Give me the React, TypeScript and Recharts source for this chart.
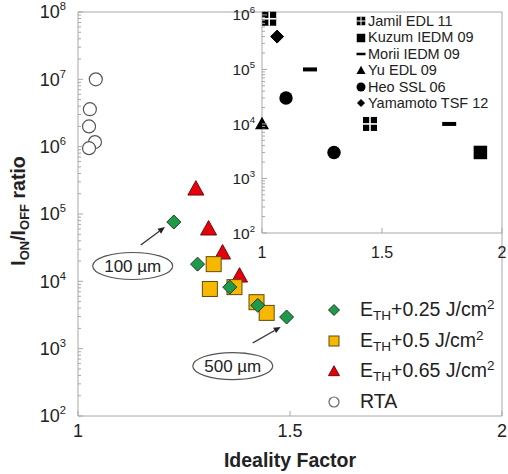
import React from 'react';
import { ScatterChart, Scatter, XAxis, YAxis, ReferenceLine, ReferenceDot, Legend } from 'recharts';

const FONT = '"Liberation Sans", Arial, Helvetica, sans-serif';
const AXIS = '#a8a8a8';
const INK = '#222';

// main panel: ideality factor vs Ion/Ioff
const e025X = [1.226, 1.282, 1.358, 1.424, 1.492];
const e025Y = [7.6e4, 1.8e4, 8.2e3, 4.4e3, 2.95e3];
const e05X = [1.32, 1.311, 1.369, 1.421, 1.445];
const e05Y = [1.8e4, 7.7e3, 8.2e3, 4.9e3, 3.4e3];
const e065X = [1.278, 1.308, 1.341, 1.381];
const e065Y = [2.35e5, 6.0e4, 2.64e4, 1.2e4];
const rtaX = [1.042, 1.028, 1.026, 1.04, 1.026];
const rtaY = [1.0e7, 3.6e6, 2.0e6, 1.17e6, 9.5e5];
const fluenceSteps = ['0.25', '0.5', '0.65'];

const mainXTicks = [1, 1.5, 2];
const mainExps = [2, 3, 4, 5, 6, 7, 8];

// annotations (data coords)
const noteLabels = ['100 µm', '500 µm'];
const noteAt = [{ x: 1.129, y: 1.69e4 }, { x: 1.365, y: 552 }];
const noteArrows = [
  [{ x: 1.148, y: 3.46e4 }, { x: 1.205, y: 6.4e4 }],
  [{ x: 1.412, y: 1213 }, { x: 1.478, y: 2099 }],
];

// inset: literature values
const refNames = ['Jamil EDL 11', 'Kuzum IEDM 09', 'Morii IEDM 09', 'Yu EDL 09', 'Heo SSL 06', 'Yamamoto TSF 12'];
const jamilX = [1.03, 1.45];
const jamilY = [8.5e5, 1e4];
const kuzumX = [1.91];
const kuzumY = [3e3];
const moriiX = [1.2, 1.78];
const moriiY = [1e5, 1e4];
const yuX = [1.0];
const yuY = [1e4];
const heoX = [1.1, 1.3];
const heoY = [3e4, 3e3];
const yamaX = [1.063];
const yamaY = [4e5];

const insetXTicks = [1, 1.5, 2];
const insetExps = [2, 3, 4, 5, 6];

const pts = (xs: number[], ys: number[]) => xs.map((x, i) => ({ x, y: ys[i] }));

const logTicks = (exps: number[]) => {
  const t: number[] = [];
  exps.forEach((e, i) => {
    t.push(Math.pow(10, e));
    if (i < exps.length - 1) for (let m = 2; m <= 9; m++) t.push(m * Math.pow(10, e));
  });
  return t;
};

// ---- marker shapes ----
const Diamond = ({ cx, cy, r, fill, stroke }: any) => (
  <polygon points={`${cx},${cy - r} ${cx + r},${cy} ${cx},${cy + r} ${cx - r},${cy}`} fill={fill} stroke={stroke} strokeWidth={1} />
);
const Square = ({ cx, cy, s, fill, stroke }: any) => (
  <rect x={cx - s / 2} y={cy - s / 2} width={s} height={s} fill={fill} stroke={stroke} strokeWidth={stroke ? 1 : 0} />
);
const Tri = ({ cx, cy, w, fill, stroke }: any) => {
  const h = w * 0.9;
  return (
    <polygon
      points={`${cx},${cy - h * 0.58} ${cx + w / 2},${cy + h * 0.42} ${cx - w / 2},${cy + h * 0.42}`}
      fill={fill}
      stroke={stroke}
      strokeWidth={stroke ? 1 : 0}
    />
  );
};
const Dot = ({ cx, cy, r, fill, stroke }: any) => (
  <circle cx={cx} cy={cy} r={r} fill={fill} stroke={stroke} strokeWidth={stroke ? 1.2 : 0} />
);
const CrossSquare = ({ cx, cy, s }: any) => (
  <g>
    <rect x={cx - s / 2} y={cy - s / 2} width={s} height={s} fill="#000" />
    <line x1={cx} x2={cx} y1={cy - s / 2} y2={cy + s / 2} stroke="#fff" strokeWidth={s > 10 ? 1.6 : 1} />
    <line x1={cx - s / 2} x2={cx + s / 2} y1={cy} y2={cy} stroke="#fff" strokeWidth={s > 10 ? 1.6 : 1} />
  </g>
);
const Bar = ({ cx, cy, w, h }: any) => <rect x={cx - w / 2} y={cy - h / 2} width={w} height={h} fill="#000" />;

const GREEN = { fill: '#1f9a4b', stroke: '#1f3a26' };
const YELLOW = { fill: '#f8b800', stroke: '#5e4b12' };
const RED = { fill: '#e5000c', stroke: '#6e0d0d' };

// ---- axis ticks ----
const LogTick = (p: any) => {
  const { x, y, payload, fs, gap } = p;
  const e = Math.log10(payload.value);
  const major = Math.abs(e - Math.round(e)) < 1e-6;
  return (
    <g>
      <line x1={x} x2={x + (major ? 5 : 3)} y1={y} y2={y} stroke={AXIS} />
      {major && (
        <text x={x - gap} y={y + fs * 0.36} textAnchor="end" fontSize={fs} fill={INK} fontFamily={FONT}>
          10
          <tspan dy={-fs * 0.45} fontSize={fs * 0.62}>
            {Math.round(e)}
          </tspan>
        </text>
      )}
    </g>
  );
};

const LinTick = (p: any) => {
  const { x, y, payload, fs, off } = p;
  return (
    <g>
      <line x1={x} x2={x} y1={y} y2={y - 5} stroke={AXIS} />
      <text x={x} y={y + off} textAnchor="middle" fontSize={fs} fill={INK} fontFamily={FONT}>
        {payload.value}
      </text>
    </g>
  );
};

const XTitle = (p: any) => {
  const vb = p.viewBox || { x: 77, y: 416, width: 425, height: 30 };
  return (
    <text x={vb.x + vb.width / 2} y={vb.y + 51} textAnchor="middle" fontSize={19.5} fontWeight="bold" fill={INK} fontFamily={FONT}>
      Ideality Factor
    </text>
  );
};

const YTitle = (p: any) => {
  const vb = p.viewBox || { x: 8, y: 12, width: 70, height: 404 };
  const cx = vb.x + 10;
  const cy = vb.y + vb.height / 2 - 3;
  const fs = 19.5;
  return (
    <text
      x={cx}
      y={cy + fs * 0.36}
      transform={`rotate(-90 ${cx} ${cy})`}
      textAnchor="middle"
      fontSize={fs}
      fontWeight="bold"
      fill={INK}
      fontFamily={FONT}
    >
      I
      <tspan dy={4} fontSize={13}>ON</tspan>
      <tspan dy={-4}>/I</tspan>
      <tspan dy={4} fontSize={13}>OFF</tspan>
      <tspan dy={-4}> ratio</tspan>
    </text>
  );
};

const Note = (p: any) => (
  <g>
    <ellipse cx={p.cx} cy={p.cy} rx={40} ry={13.5} fill="#fff" stroke="#555" strokeWidth={1.2} />
    <text x={p.cx} y={p.cy + 6} textAnchor="middle" fontSize={17} fill={INK} fontFamily={FONT}>
      {p.label}
    </text>
  </g>
);

const Arrow = (p: any) => {
  const { x1, y1, x2, y2 } = p;
  const dx = x2 - x1;
  const dy = y2 - y1;
  const len = Math.sqrt(dx * dx + dy * dy) || 1;
  const ux = dx / len;
  const uy = dy / len;
  const bx = x2 - ux * 7;
  const by = y2 - uy * 7;
  return (
    <g>
      <line x1={x1} y1={y1} x2={bx} y2={by} stroke="#333" strokeWidth={1.3} />
      <polygon points={`${x2},${y2} ${bx - uy * 3},${by + ux * 3} ${bx + uy * 3},${by - ux * 3}`} fill="#222" />
    </g>
  );
};

const MainLegend = () => {
  const markers = [
    <Diamond cx={9} cy={9} r={5.5} {...GREEN} />,
    <Square cx={9} cy={9} s={10} {...YELLOW} />,
    <Tri cx={9} cy={9.5} w={11} {...RED} />,
  ];
  const row = { display: 'flex', alignItems: 'center', height: 30.5 } as React.CSSProperties;
  return (
    <div style={{ fontFamily: FONT, fontSize: 19.5, color: INK, lineHeight: 1 }}>
      {fluenceSteps.map((s, i) => (
        <div key={s} style={row}>
          <svg width={18} height={18}>{markers[i]}</svg>
          <span style={{ marginLeft: 17, whiteSpace: 'nowrap' }}>
            E<span style={{ fontSize: 13.5, verticalAlign: -4 }}>TH</span>+{s} J/cm
            <span style={{ fontSize: 13.5, verticalAlign: 7 }}>2</span>
          </span>
        </div>
      ))}
      <div style={row}>
        <svg width={18} height={18}>
          <Dot cx={9} cy={9} r={5} fill="#fff" stroke="#666" />
        </svg>
        <span style={{ marginLeft: 17 }}>RTA</span>
      </div>
    </div>
  );
};

const InsetLegend = () => {
  const markers = [
    <CrossSquare cx={5} cy={5} s={8.5} />,
    <Square cx={5} cy={5} s={8.5} fill="#000" />,
    <Bar cx={5} cy={5} w={9} h={2.5} />,
    <Tri cx={5} cy={5.5} w={9} fill="#000" />,
    <Dot cx={5} cy={5} r={4.5} fill="#000" />,
    <Diamond cx={5} cy={5} r={3.5} fill="#000" stroke="#000" />,
  ];
  return (
    <div style={{ fontFamily: FONT, fontSize: 14.5, color: INK, lineHeight: 1 }}>
      {refNames.map((n, i) => (
        <div key={n} style={{ display: 'flex', alignItems: 'center', height: 16.4 }}>
          <svg width={10} height={10}>{markers[i]}</svg>
          <span style={{ marginLeft: 2, whiteSpace: 'nowrap' }}>{n}</span>
        </div>
      ))}
    </div>
  );
};

export default function App() {
  const mainTicks = logTicks(mainExps);
  const insetTicks = logTicks(insetExps);
  return (
    <div style={{ position: 'absolute', left: 0, top: 0, width: 508, height: 474, background: '#fff', fontFamily: FONT }}>
      <div style={{ position: 'absolute', left: 0, top: 0 }}>
        <ScatterChart width={508} height={474} margin={{ top: 12, right: 6, bottom: 28, left: 8 }}>
          <XAxis
            type="number"
            dataKey="x"
            domain={[1, 2]}
            ticks={mainXTicks}
            interval={0}
            height={30}
            axisLine={{ stroke: AXIS }}
            tickLine={false}
            tickSize={0}
            tickMargin={0}
            tick={(p: any) => <LinTick {...p} fs={18} off={21} />}
            label={<XTitle />}
          />
          <YAxis
            type="number"
            dataKey="y"
            scale="log"
            domain={[100, 1e8]}
            ticks={mainTicks}
            interval={0}
            width={70}
            axisLine={{ stroke: AXIS }}
            tickLine={false}
            tickSize={0}
            tickMargin={0}
            tick={(p: any) => <LogTick {...p} fs={18} gap={12} />}
            label={<YTitle />}
          />
          <ReferenceLine y={1e8} stroke={AXIS} />
          <ReferenceLine x={2} stroke={AXIS} />
          <Scatter data={pts(rtaX, rtaY)} isAnimationActive={false} shape={(p: any) => <Dot cx={p.cx} cy={p.cy} r={6.5} fill="#fff" stroke="#555" />} />
          <Scatter data={pts(e065X, e065Y)} isAnimationActive={false} shape={(p: any) => <Tri cx={p.cx} cy={p.cy} w={16} {...RED} />} />
          <Scatter data={pts(e05X, e05Y)} isAnimationActive={false} shape={(p: any) => <Square cx={p.cx} cy={p.cy} s={15} {...YELLOW} />} />
          <Scatter data={pts(e025X, e025Y)} isAnimationActive={false} shape={(p: any) => <Diamond cx={p.cx} cy={p.cy} r={7} {...GREEN} />} />
          {noteArrows.map((seg, i) => (
            <ReferenceLine key={`a${i}`} segment={seg} shape={(p: any) => <Arrow {...p} />} />
          ))}
          {noteAt.map((n, i) => (
            <ReferenceDot key={`n${i}`} x={n.x} y={n.y} shape={(p: any) => <Note {...p} label={noteLabels[i]} />} />
          ))}
          <Legend
            layout="vertical"
            align="center"
            verticalAlign="middle"
            wrapperStyle={{ left: 325, top: 295, width: 190 }}
            content={() => <MainLegend />}
          />
        </ScatterChart>
      </div>
      <div style={{ position: 'absolute', left: 200, top: 0 }}>
        <ScatterChart width={308} height={270} margin={{ top: 12, right: 6, bottom: 7, left: 7 }}>
          <XAxis
            type="number"
            dataKey="x"
            domain={[1, 2]}
            ticks={insetXTicks}
            interval={0}
            height={30}
            axisLine={{ stroke: AXIS }}
            tickLine={false}
            tickSize={0}
            tickMargin={0}
            tick={(p: any) => <LinTick {...p} fs={16} off={24.5} />}
          />
          <YAxis
            type="number"
            dataKey="y"
            scale="log"
            domain={[100, 1.13e6]}
            ticks={insetTicks}
            interval={0}
            width={55}
            axisLine={{ stroke: AXIS }}
            tickLine={false}
            tickSize={0}
            tickMargin={0}
            tick={(p: any) => <LogTick {...p} fs={15.5} gap={7} />}
          />
          <Scatter data={pts(jamilX, jamilY)} isAnimationActive={false} shape={(p: any) => <CrossSquare cx={p.cx} cy={p.cy} s={14} />} />
          <Scatter data={pts(kuzumX, kuzumY)} isAnimationActive={false} shape={(p: any) => <Square cx={p.cx} cy={p.cy} s={13.5} fill="#000" />} />
          <Scatter data={pts(moriiX, moriiY)} isAnimationActive={false} shape={(p: any) => <Bar cx={p.cx} cy={p.cy} w={14} h={4} />} />
          <Scatter data={pts(yuX, yuY)} isAnimationActive={false} shape={(p: any) => <Tri cx={p.cx} cy={p.cy} w={14} fill="#000" />} />
          <Scatter data={pts(heoX, heoY)} isAnimationActive={false} shape={(p: any) => <Dot cx={p.cx} cy={p.cy} r={6.7} fill="#000" />} />
          <Scatter data={pts(yamaX, yamaY)} isAnimationActive={false} shape={(p: any) => <Diamond cx={p.cx} cy={p.cy} r={6.5} fill="#000" stroke="#000" />} />
          <Legend
            layout="vertical"
            align="center"
            verticalAlign="middle"
            wrapperStyle={{ left: 156, top: 13, width: 150 }}
            content={() => <InsetLegend />}
          />
        </ScatterChart>
      </div>
    </div>
  );
}
